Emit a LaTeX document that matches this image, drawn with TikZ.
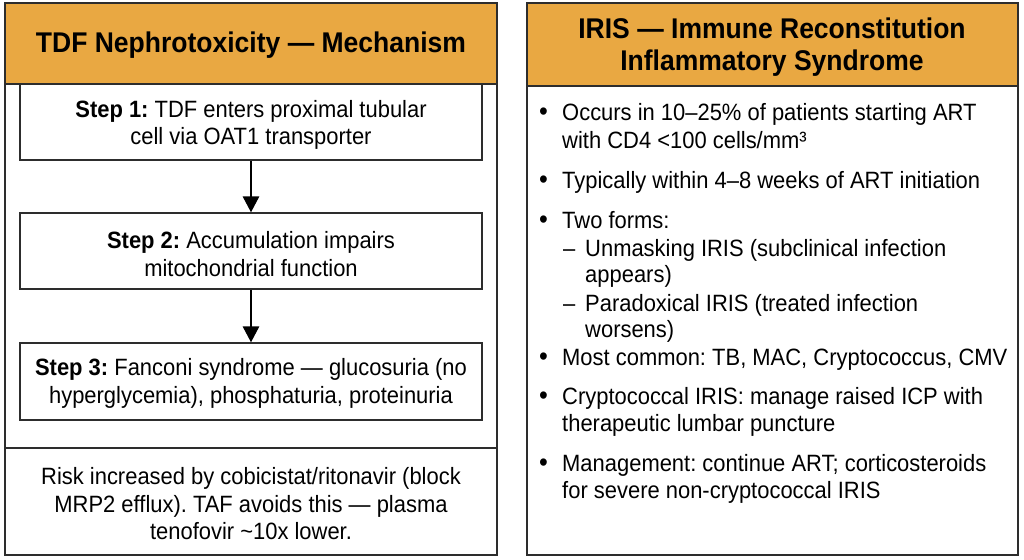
\documentclass[tikz,border=0pt]{standalone}
\usepackage{fontspec}
\setmainfont{Liberation Sans}[FakeStretch=0.93]
\usetikzlibrary{arrows.meta}
\definecolor{hdr}{RGB}{233,168,66}
\definecolor{edge}{RGB}{45,45,45}
\frenchspacing
\begin{document}
\frenchspacing
\begin{tikzpicture}[x=1pt,y=-1pt,
  panel/.style={draw=edge,line width=1.3pt},
  hdrbox/.style={fill=hdr,draw=edge,line width=1.3pt},
  stepbox/.style={draw=edge,line width=1.2pt,fill=white,minimum width=462pt,inner sep=0pt},
  txt/.style={font=\fontsize{23.6}{27.5}\selectfont\frenchspacing,align=center,inner sep=0pt},
  ttl/.style={font=\fontsize{28.5}{32}\selectfont\bfseries\frenchspacing,align=center,inner sep=0pt},
  ln/.style={font=\fontsize{23.6}{27}\selectfont\frenchspacing,anchor=base west,inner sep=0pt},
  blt/.style={font=\fontsize{27}{27}\selectfont,anchor=base west,inner sep=0pt},
  flow/.style={-{Triangle[length=16pt,width=16pt]},line width=2.8pt,draw=black}]
\useasboundingbox (0,0) rectangle (1024,559);
% ---------- left panel ----------
\draw[panel,fill=white] (5,3) rectangle (497,555);
\draw[hdrbox] (5,3) rectangle (497,84);
\node[ttl] (lt) at (251,45) {TDF Nephrotoxicity — Mechanism};
\node[stepbox,minimum height=76pt] (s1) at (251,122) {};
\node[txt,yshift=-3pt] (s1t) at (s1.center) {\textbf{Step 1:} TDF enters proximal tubular\\cell via OAT1 transporter};
\node[stepbox,minimum height=76pt] (s2) at (251,251) {};
\node[txt,yshift=-3pt] (s2t) at (s2.center) {\textbf{Step 2:} Accumulation impairs\\mitochondrial function};
\node[stepbox,minimum height=77pt] (s3) at (251,381.5) {};
\node[txt,yshift=-2pt] (s3t) at (s3.center) {\textbf{Step 3:} Fanconi syndrome — glucosuria (no\\hyperglycemia), phosphaturia, proteinuria};
\draw[flow] (s1.south) -- (s2.north);
\draw[flow] (s2.south) -- (s3.north);
\draw[panel] (5,448) -- (497,448);
\node[txt] (note) at (251,504) {Risk increased by cobicistat/ritonavir (block\\MRP2 efflux). TAF avoids this — plasma\\tenofovir \textasciitilde10x lower.};
% ---------- right panel ----------
\draw[panel,fill=white] (527,3) rectangle (1018,555);
\draw[hdrbox] (527,3) rectangle (1018,86);
\node[ttl] (rt) at (772,47) {IRIS — Immune Reconstitution\\Inflammatory Syndrome};
% bullets
\foreach \n/\y in {b1/121,b2/188,b3/228,b4/365,b5/404,b6/471}
  \node[blt] (\n) at (539,\y) {•};
\foreach \n/\y in {d1/256,d2/311}
  \node[ln] (\n) at (563,\y) {–};
\node[ln] (l1) at (562,121) {Occurs in 10–25\% of patients starting ART};
\node[ln] (l2) at (562,148) {with CD4 <100 cells/mm³};
\node[ln] (l3) at (562,188) {Typically within 4–8 weeks of ART initiation};
\node[ln] (l4) at (562,228) {Two forms:};
\node[ln] (l5) at (585,256) {Unmasking IRIS (subclinical infection};
\node[ln] (l6) at (585,282) {appears)};
\node[ln] (l7) at (585,311) {Paradoxical IRIS (treated infection};
\node[ln] (l8) at (585,337) {worsens)};
\node[ln] (l9) at (562,365) {Most common: TB, MAC, Cryptococcus, CMV};
\node[ln] (l10) at (562,404) {Cryptococcal IRIS: manage raised ICP with};
\node[ln] (l11) at (562,431) {therapeutic lumbar puncture};
\node[ln] (l12) at (562,471) {Management: continue ART; corticosteroids};
\node[ln] (l13) at (562,498) {for severe non-cryptococcal IRIS};
\end{tikzpicture}
\end{document}
